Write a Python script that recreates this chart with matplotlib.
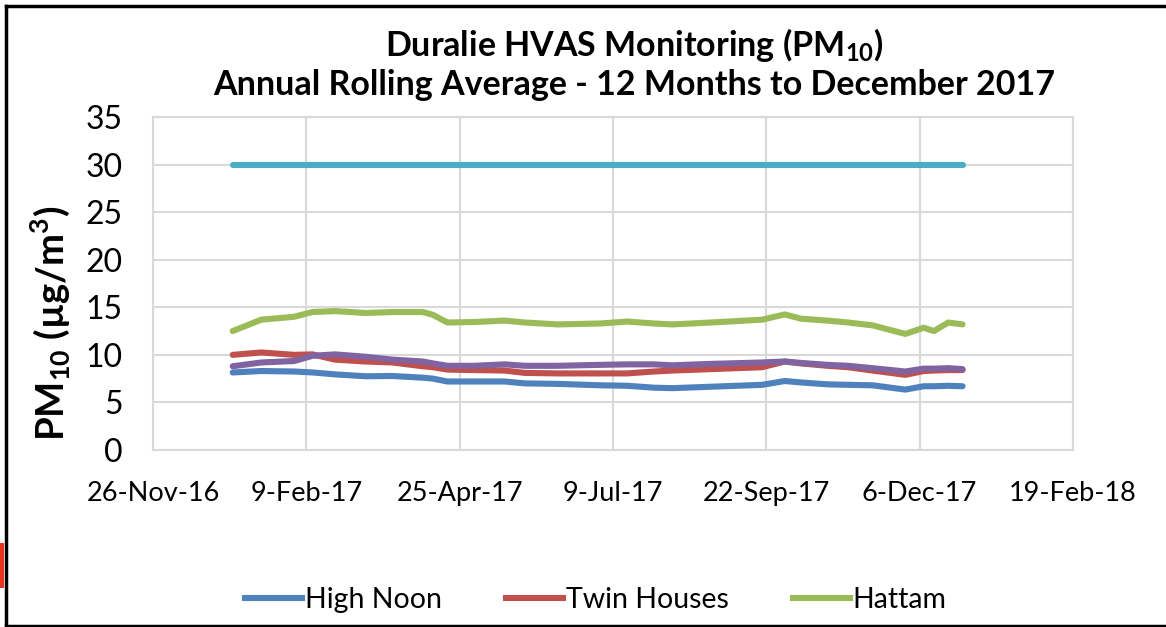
import matplotlib
matplotlib.use("Agg")
import matplotlib.pyplot as plt
import matplotlib.dates as mdates
from matplotlib.patches import Rectangle
from matplotlib.lines import Line2D
import datetime as dt

plt.rcParams['font.family'] = ['Lato', 'DejaVu Sans']
plt.rcParams['mathtext.fontset'] = 'custom'
plt.rcParams['mathtext.rm'] = 'Lato'
plt.rcParams['mathtext.bf'] = 'Lato:bold'

dates = ["2017-01-04", "2017-01-18", "2017-02-03", "2017-02-12", "2017-02-23",
         "2017-03-10", "2017-03-23", "2017-04-07", "2017-04-12", "2017-04-19",
         "2017-05-02", "2017-05-17", "2017-05-27", "2017-06-12", "2017-07-03",
         "2017-07-16", "2017-07-29", "2017-08-07", "2017-08-26", "2017-09-20",
         "2017-10-01", "2017-10-09", "2017-10-22", "2017-11-01", "2017-11-13",
         "2017-11-29", "2017-12-08", "2017-12-13", "2017-12-20", "2017-12-27"]

high_noon = [8.15, 8.3, 8.25, 8.15, 7.95, 7.75, 7.78, 7.6, 7.5, 7.2,
             7.2, 7.2, 7.0, 6.95, 6.8, 6.75, 6.55, 6.5, 6.65, 6.85,
             7.25, 7.1, 6.9, 6.85, 6.8, 6.35, 6.7, 6.7, 6.75, 6.7]
twin_houses = [10.0, 10.25, 10.0, 10.05, 9.5, 9.3, 9.2, 8.8, 8.7, 8.45,
               8.4, 8.35, 8.1, 8.05, 8.05, 8.05, 8.25, 8.35, 8.5, 8.7,
               9.3, 9.1, 8.85, 8.7, 8.35, 7.9, 8.3, 8.35, 8.4, 8.4]
hattam = [12.5, 13.7, 14.0, 14.5, 14.6, 14.4, 14.5, 14.5, 14.2, 13.4,
          13.45, 13.6, 13.4, 13.2, 13.3, 13.5, 13.3, 13.2, 13.4, 13.7,
          14.25, 13.8, 13.6, 13.4, 13.1, 12.2, 12.85, 12.5, 13.4, 13.2]
fourth_site = [8.8, 9.2, 9.35, 9.9, 10.05, 9.8, 9.5, 9.3, 9.1, 8.85,
               8.85, 9.0, 8.85, 8.85, 8.95, 9.0, 9.0, 8.9, 9.05, 9.2,
               9.3, 9.15, 8.95, 8.85, 8.6, 8.25, 8.55, 8.55, 8.6, 8.5]
criterion = [30.0] * len(dates)

tick_dates = ["2016-11-26", "2017-02-09", "2017-04-25", "2017-07-09",
              "2017-09-22", "2017-12-06", "2018-02-19"]
tick_labels = ["26-Nov-16", "9-Feb-17", "25-Apr-17", "9-Jul-17",
               "22-Sep-17", "6-Dec-17", "19-Feb-18"]
y_ticks = [0, 5, 10, 15, 20, 25, 30, 35]

x = [dt.datetime.strptime(d, "%Y-%m-%d") for d in dates]
xt = [dt.datetime.strptime(d, "%Y-%m-%d") for d in tick_dates]

W, H = 1166, 627
fig = plt.figure(figsize=(W / 100, H / 100), dpi=100)
ax = fig.add_axes([0.1312, 0.2823, 0.789, 0.5311])

lw = 4.4
ax.plot(x, criterion, color="#4BACC6", lw=lw, solid_capstyle="round")
ax.plot(x, hattam, color="#9BBB59", lw=lw, solid_capstyle="round")
ax.plot(x, twin_houses, color="#C0504D", lw=lw, solid_capstyle="round")
ax.plot(x, fourth_site, color="#8064A2", lw=lw, solid_capstyle="round")
ax.plot(x, high_noon, color="#4F81BD", lw=lw, solid_capstyle="round")

ax.set_xlim(mdates.date2num(xt[0]), mdates.date2num(xt[-1]))
ax.set_ylim(0, 35)
ax.set_xticks(xt)
ax.set_xticklabels(tick_labels)
ax.set_yticks(y_ticks)
ax.tick_params(axis='x', length=0, labelsize=19.5, pad=22)
ax.tick_params(axis='y', length=0, labelsize=23, pad=22)
ax.grid(True, color="#D9D9D9", lw=1.5)
ax.set_axisbelow(True)
for s in ax.spines.values():
    s.set_color("#D9D9D9")
    s.set_linewidth(1.5)

ax.set_ylabel(r"PM$_{\mathbf{10}}$ (µg/m$^{\mathbf{3}}$)", fontsize=27.5,
              fontweight="bold")
ax.yaxis.set_label_coords(-0.084, 0.36)

fig.text(0.544, 0.929, r"Duralie HVAS Monitoring (PM$_{\mathbf{10}}$)",
         ha="center", va="center", fontsize=24.5, fontweight="bold")
fig.text(0.544, 0.864, "Annual Rolling Average - 12 Months to December 2017",
         ha="center", va="center", fontsize=24.5, fontweight="bold")

handles = [Line2D([], [], color="#4F81BD", lw=lw),
           Line2D([], [], color="#C0504D", lw=lw),
           Line2D([], [], color="#9BBB59", lw=lw)]
fig.legend(handles, ["High Noon", "Twin Houses", "Hattam"],
           loc="center", bbox_to_anchor=(0.511, 0.043), ncol=3, frameon=False,
           fontsize=20.5, handlelength=2.0, handletextpad=0.1, columnspacing=2.25)

# place the y label so that its box spans the same region as in the reference
fig.canvas.draw()
bb = ax.yaxis.label.get_window_extent()
axbb = ax.get_window_extent()
target_right = 72
target_center = H - 323
dx = (target_right - bb.x1) / axbb.width
dy = (target_center - (bb.y0 + bb.y1) / 2) / axbb.height
ax.yaxis.set_label_coords(-0.084 + dx, 0.36 + dy)

# outer frame and edge marker
fig.add_artist(Line2D([0.005, 1.0], [0.991, 0.991], color="black", lw=2.5,
                      transform=fig.transFigure))
fig.add_artist(Line2D([0.005, 0.005], [0.0015, 0.991], color="black", lw=2.5,
                      transform=fig.transFigure))
fig.add_artist(Line2D([0.005, 1.0], [0.0015, 0.0015], color="black", lw=2.5,
                      transform=fig.transFigure))
fig.add_artist(Rectangle((0, 1 - 588 / 627), 4 / 1166, 45 / 627,
                         transform=fig.transFigure, color="#E8341C", lw=0))

fig.savefig("out.png", dpi=100)
